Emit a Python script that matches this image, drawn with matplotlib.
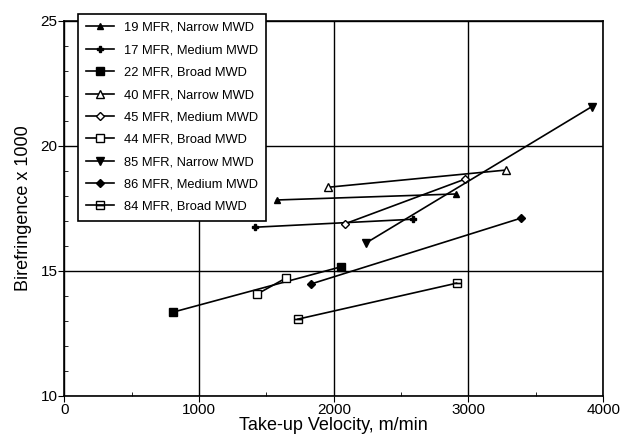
import matplotlib.pyplot as plt
from matplotlib.ticker import MultipleLocator

plt.rcParams['font.family'] = ['Liberation Sans', 'DejaVu Sans']

# data: (start, end) of each line
labels = ['19 MFR, Narrow MWD', '17 MFR, Medium MWD', '22 MFR, Broad MWD',
          '40 MFR, Narrow MWD', '45 MFR, Medium MWD', '44 MFR, Broad MWD',
          '85 MFR, Narrow MWD', '86 MFR, Medium MWD', '84 MFR, Broad MWD']
vel = [[1576, 2905], [1415, 2590], [806, 2057],
       [1958, 3282], [2080, 2972], [1430, 1643],
       [2243, 3914], [1832, 3388], [1733, 2912]]
biref = [[17.83, 18.07], [16.74, 17.06], [13.34, 15.16],
         [18.34, 19.03], [16.87, 18.66], [14.06, 14.70],
         [16.12, 21.56], [14.47, 17.10], [13.06, 14.50]]

# marker styles
styles = [dict(marker='^', ms=4, mfc='black'),
          dict(marker='P', ms=4, mfc='black'),
          dict(marker='s', ms=6, mfc='black'),
          dict(marker='^', ms=6, mfc='white'),
          dict(marker='D', ms=4, mfc='white'),
          dict(marker='s', ms=6, mfc='white'),
          dict(marker='v', ms=6, mfc='black'),
          dict(marker='D', ms=4, mfc='black'),
          dict(marker='s', ms=6, mfc='white', fillstyle='bottom')]

fig = plt.figure(figsize=(6.25, 4.44), dpi=100)
ax = fig.add_axes([0.103, 0.109, 0.862, 0.844])

for lab, x, y, st in zip(labels, vel, biref, styles):
    ax.plot(x, y, color='black', lw=1.2, mec='black', label=lab, **st)

ax.set_xlim(0, 4000)
ax.set_ylim(10, 25)
ax.xaxis.set_major_locator(MultipleLocator(1000))
ax.xaxis.set_minor_locator(MultipleLocator(500))
ax.yaxis.set_major_locator(MultipleLocator(5))
ax.yaxis.set_minor_locator(MultipleLocator(1))
ax.grid(True, which='major', color='black', lw=1.0)
ax.tick_params(which='major', direction='out', length=4, labelsize=11, pad=1)
ax.tick_params(which='minor', direction='in', length=3)
for s in ax.spines.values():
    s.set_linewidth(1.2)

ax.set_xlabel('Take-up Velocity, m/min', fontsize=13, labelpad=0)
ax.set_ylabel('Birefringence x 1000', fontsize=13, labelpad=6)

leg = ax.legend(loc='upper left', bbox_to_anchor=(0.025, 1.018), fontsize=9.3,
                frameon=True, fancybox=False, edgecolor='black', framealpha=1,
                handlelength=2.2, labelspacing=0.8, borderpad=0.6,
                borderaxespad=0)
leg.get_frame().set_linewidth(1.2)

fig.savefig('out.png', dpi=100)
